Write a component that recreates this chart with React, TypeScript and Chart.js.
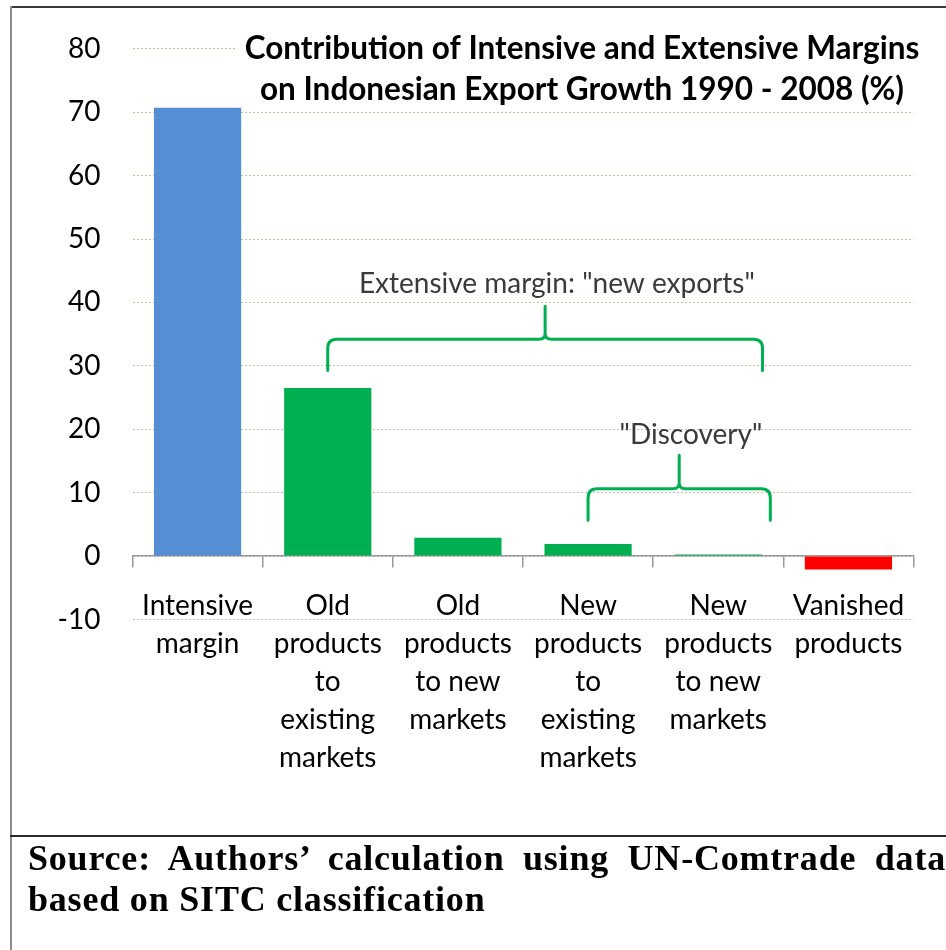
import React, { useEffect, useRef } from 'react';
import { Chart, registerables } from 'chart.js';

Chart.register(...registerables);

// ---------- data ----------
const categories: string[][] = [
  ['Intensive', 'margin'],
  ['Old', 'products', 'to', 'existing', 'markets'],
  ['Old', 'products', 'to new', 'markets'],
  ['New', 'products', 'to', 'existing', 'markets'],
  ['New', 'products', 'to new', 'markets'],
  ['Vanished', 'products'],
];
const values: number[] = [70.7, 26.5, 2.9, 1.9, 0.25, -2.1];
const barColors: string[] = ['#558ED5', '#00B050', '#00B050', '#00B050', '#00B050', '#FF0000'];
const yMin = -10;
const yMax = 80;
const yStep = 10;

const titleLines: string[] = [
  'Contribution of Intensive and Extensive Margins',
  'on Indonesian Export Growth 1990 - 2008 (%)',
];

// braces: category-index span and value levels (data units)
const braceFrom: number[] = [1, 3];
const braceTo: number[] = [4.34, 4.4];
const braceTip: number[] = [29.25, 5.66];
const braceBar: number[] = [34.2, 10.6];
const bracePeak: number[] = [39.4, 15.9];
const braceLabels: string[] = ['Extensive margin: "new exports"', '"Discovery"'];
const braceLabelX: number[] = [2.76, 3.79];
const braceLabelY: number[] = [41.5, 17.6];

const sourceLines: string[] = [
  'Source: Authors\u2019 calculation using UN-Comtrade data',
  'based on SITC classification',
];

// ---------- styles ----------
const FONT = 'Lato';
const GREEN = '#00B050';
const CANVAS_W = 946;
const CANVAS_H = 836;

function drawBrace(
  ctx: CanvasRenderingContext2D,
  xl: number, xr: number, xm: number,
  yTip: number, yBar: number, yPeak: number, r: number, rm: number
) {
  ctx.beginPath();
  ctx.moveTo(xl, yTip);
  ctx.lineTo(xl, yBar + r);
  ctx.quadraticCurveTo(xl, yBar, xl + r, yBar);
  ctx.lineTo(xm - rm, yBar);
  ctx.quadraticCurveTo(xm, yBar, xm, yBar - rm);
  ctx.lineTo(xm, yPeak);
  ctx.moveTo(xm, yBar - rm);
  ctx.quadraticCurveTo(xm, yBar, xm + rm, yBar);
  ctx.lineTo(xr - r, yBar);
  ctx.quadraticCurveTo(xr, yBar, xr, yBar + r);
  ctx.lineTo(xr, yTip);
  ctx.stroke();
}

const annotationPlugin = {
  id: 'annotations',
  beforeDatasetsDraw(chart: any) {
    const { ctx } = chart;
    ctx.save();
    ctx.fillStyle = '#ffffff';
    ctx.fillRect(236, 24, 692, 76);
    ctx.restore();
  },
  afterDatasetsDraw(chart: any) {
    const { ctx, scales } = chart;
    const x = scales.x;
    const y = scales.y;
    ctx.save();
    // braces
    ctx.strokeStyle = GREEN;
    ctx.lineWidth = 3;
    ctx.lineCap = 'round';
    ctx.lineJoin = 'round';
    for (let i = 0; i < braceFrom.length; i++) {
      const xl = x.getPixelForValue(braceFrom[i]);
      const xr = x.getPixelForValue(braceTo[i]);
      const xm = (xl + xr) / 2;
      drawBrace(
        ctx, xl, xr, xm,
        y.getPixelForValue(braceTip[i]),
        y.getPixelForValue(braceBar[i]),
        y.getPixelForValue(bracePeak[i]),
        9, 6
      );
    }
    // brace labels
    ctx.fillStyle = '#3a3a3a';
    ctx.font = `28px ${FONT}`;
    ctx.textAlign = 'center';
    ctx.textBaseline = 'alphabetic';
    for (let i = 0; i < braceLabels.length; i++) {
      ctx.fillText(
        braceLabels[i],
        x.getPixelForValue(braceLabelX[i]),
        y.getPixelForValue(braceLabelY[i])
      );
    }
    // title
    ctx.fillStyle = '#000000';
    ctx.font = `bold 31.5px ${FONT}`;
    ctx.fillText(titleLines[0], 582, 59);
    ctx.fillText(titleLines[1], 582, 100);
    ctx.restore();
  },
};

export default function App() {
  const canvasRef = useRef<HTMLCanvasElement | null>(null);

  useEffect(() => {
    const canvas = canvasRef.current;
    if (!canvas) return;
    const chart = new Chart(canvas, {
      type: 'bar',
      data: {
        labels: categories as any,
        datasets: [
          {
            data: values,
            backgroundColor: barColors,
            borderWidth: 0,
            barPercentage: 0.67,
            categoryPercentage: 1,
          },
        ],
      },
      options: {
        responsive: false,
        animation: false,
        devicePixelRatio: 1,
        events: [],
        layout: {
          padding: { left: 32.5, right: 32.5, top: 40, bottom: CANVAS_H - 619.5 },
        },
        plugins: {
          legend: { display: false },
          tooltip: { enabled: false },
          title: { display: false },
        },
        scales: {
          x: {
            position: { y: 0 } as any,
            afterFit: (s: any) => {
              s.height = 0;
            },
            grid: {
              drawOnChartArea: false,
              drawTicks: true,
              tickLength: 11,
              color: '#9a9a9a',
              lineWidth: 1.5,
              offset: true,
            },
            border: { display: true, color: '#9a9a9a', width: 1.5 },
            ticks: {
              autoSkip: false,
              maxRotation: 0,
              minRotation: 0,
              padding: 20,
              color: '#000000',
              font: { family: FONT, size: 28, lineHeight: '38px' },
            },
          },
          y: {
            min: yMin,
            max: yMax,
            afterFit: (s: any) => {
              s.width = 100;
            },
            grid: { color: 'rgb(200,192,160)', lineWidth: 1, drawTicks: false },
            border: { display: false, dash: [2, 2] },
            ticks: {
              stepSize: yStep,
              padding: 32,
              color: '#000000',
              font: { family: FONT, size: 28 },
            },
          },
        },
      },
      plugins: [annotationPlugin],
    });
    return () => chart.destroy();
  }, []);

  return (
    <div style={{ position: 'absolute', left: 0, top: 0, width: 946, height: 950, background: '#ffffff', overflow: 'hidden' }}>
      <canvas
        ref={canvasRef}
        width={CANVAS_W}
        height={CANVAS_H}
        style={{ position: 'absolute', left: 0, top: 0, width: CANVAS_W, height: CANVAS_H }}
      />
      <div style={{ position: 'absolute', left: 10, top: 6, width: 936, height: 2, background: '#3a3a3a' }} />
      <div style={{ position: 'absolute', left: 10, top: 6, width: 2, height: 944, background: '#8c8c8c' }} />
      <div style={{ position: 'absolute', left: 10, top: 835, width: 936, height: 2, background: '#2a2a2a' }} />
      <div
        style={{
          position: 'absolute',
          left: 28,
          top: 838,
          width: 918,
          fontFamily: '"Liberation Serif", serif',
          fontWeight: 'bold',
          fontSize: 36,
          lineHeight: '41px',
          letterSpacing: 0.8,
          color: '#000000',
          whiteSpace: 'nowrap',
        }}
      >
        <div style={{ textAlign: 'justify', textAlignLast: 'justify', whiteSpace: 'normal' }}>{sourceLines[0]}</div>
        <div>{sourceLines[1]}</div>
      </div>
    </div>
  );
}
